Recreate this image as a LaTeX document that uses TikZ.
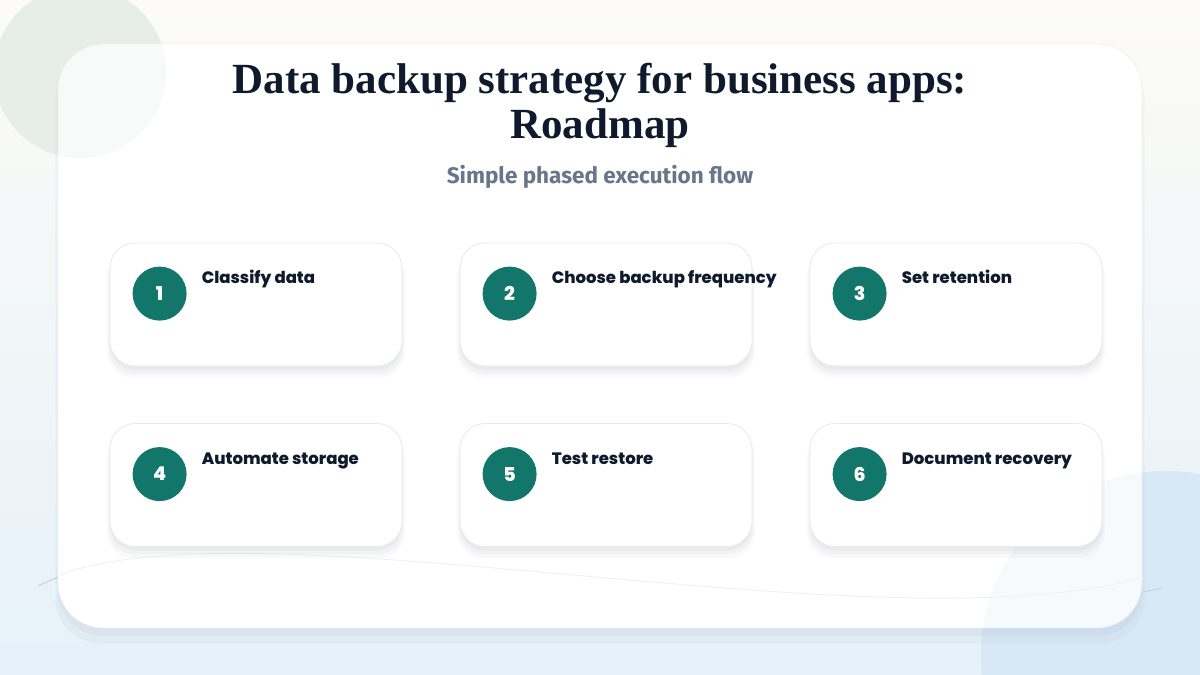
\documentclass[tikz,border=0pt]{standalone}
\usepackage{fontspec}
\setmainfont{Liberation Serif}
\newfontfamily\cardfont{Poppins ExtraBold}
\newfontfamily\subfont{Fira Sans}
\usetikzlibrary{positioning,shadows}
\definecolor{bgwarm}{HTML}{FCFBF7}
\definecolor{bgblue}{HTML}{E6F1F9}
\definecolor{blobgreen}{HTML}{E7EEEA}
\definecolor{blobblue}{HTML}{D8E8F5}
\definecolor{ink}{HTML}{0F1A2C}
\definecolor{subgray}{HTML}{69758A}
\definecolor{stepteal}{HTML}{12766B}
\definecolor{cardline}{HTML}{E4EAF3}
\definecolor{waveline}{HTML}{BCD3CF}
\definecolor{shade}{HTML}{1E2A4A}
\begin{document}
\begin{tikzpicture}[x=1pt, y=-1pt, node distance=10pt]
	\tikzstyle{softshadow} = [drop shadow={shadow xshift=0pt, shadow yshift=-10pt, shadow scale=1.02, fill=shade, opacity=0.025}, drop shadow={shadow xshift=0pt, shadow yshift=-7pt, shadow scale=1.01, fill=shade, opacity=0.03}, drop shadow={shadow xshift=0pt, shadow yshift=-4pt, shadow scale=1.0, fill=shade, opacity=0.035}]
	\tikzstyle{panelshadow} = [drop shadow={shadow xshift=0pt, shadow yshift=-14pt, shadow scale=1.005, fill=shade, opacity=0.03}, drop shadow={shadow xshift=0pt, shadow yshift=-8pt, shadow scale=1.0, fill=shade, opacity=0.035}]
	\tikzstyle{panel} = [rectangle, fill=white, draw=cardline, rounded corners=45pt, panelshadow]
	\tikzstyle{card} = [rectangle, fill=white, draw=cardline, line width=0.8pt, rounded corners=25pt, minimum width=292pt, minimum height=123pt, softshadow]
	\tikzstyle{badge} = [circle, fill=stepteal, minimum size=54pt, inner sep=0pt, text=white, font=\cardfont\fontsize{19}{19}\selectfont]
	\tikzstyle{steplabel} = [anchor=base west, inner sep=0pt, text=ink, font=\cardfont\fontsize{16.5}{18}\selectfont]
	\tikzstyle{headline} = [anchor=base, inner sep=0pt, text=ink, font=\bfseries\fontsize{43}{46}\selectfont]
	\useasboundingbox (0,0) rectangle (1200,675);
	% background and blobs
	\shade[left color=bgwarm, right color=bgblue, shading angle=0] (0,0) rectangle (1200,675);
	\fill[blobgreen] (80,72) circle (86);
	\fill[blobblue] (1165,655) circle (184);
	\draw[waveline, line width=0.9pt] (38,586) .. controls (250,480) and (900,650) .. (1162,588);
	% main panel
	\node (PANEL) [panel, minimum width=1084pt, minimum height=584pt] at (600,336) {};
	\fill[blobgreen, opacity=0.25] (80,72) circle (86);
	\fill[blobblue, opacity=0.2] (1165,655) circle (184);
	\draw[waveline!30, line width=0.8pt] (60,575) .. controls (260,500) and (880,650) .. (1140,578);
	\node (TITLE) [headline] at (600,93) {Data backup strategy for business apps:};
	\node (TITLE2) [headline] at (600,138) {Roadmap};
	\node (SUB) [text=subgray, font=\subfont\bfseries\fontsize{22.5}{24}\selectfont] at (600,177) {Simple phased execution flow};
	% steps
	\foreach \n/\x/\y/\txt in {1/256/304.5/Classify data, 2/606/304.5/Choose backup frequency, 3/956/304.5/Set retention, 4/256/485/Automate storage, 5/606/485/Test restore, 6/956/485/Document recovery}{
		\node (C\n) [card] at (\x,\y) {};
		\node (B\n) [badge] at ([shift={(50pt,-51pt)}]C\n.north west) {\n};
		\node (L\n) [steplabel] at ([shift={(92pt,-41pt)}]C\n.north west) {\txt};
	}
\end{tikzpicture}
\end{document}
